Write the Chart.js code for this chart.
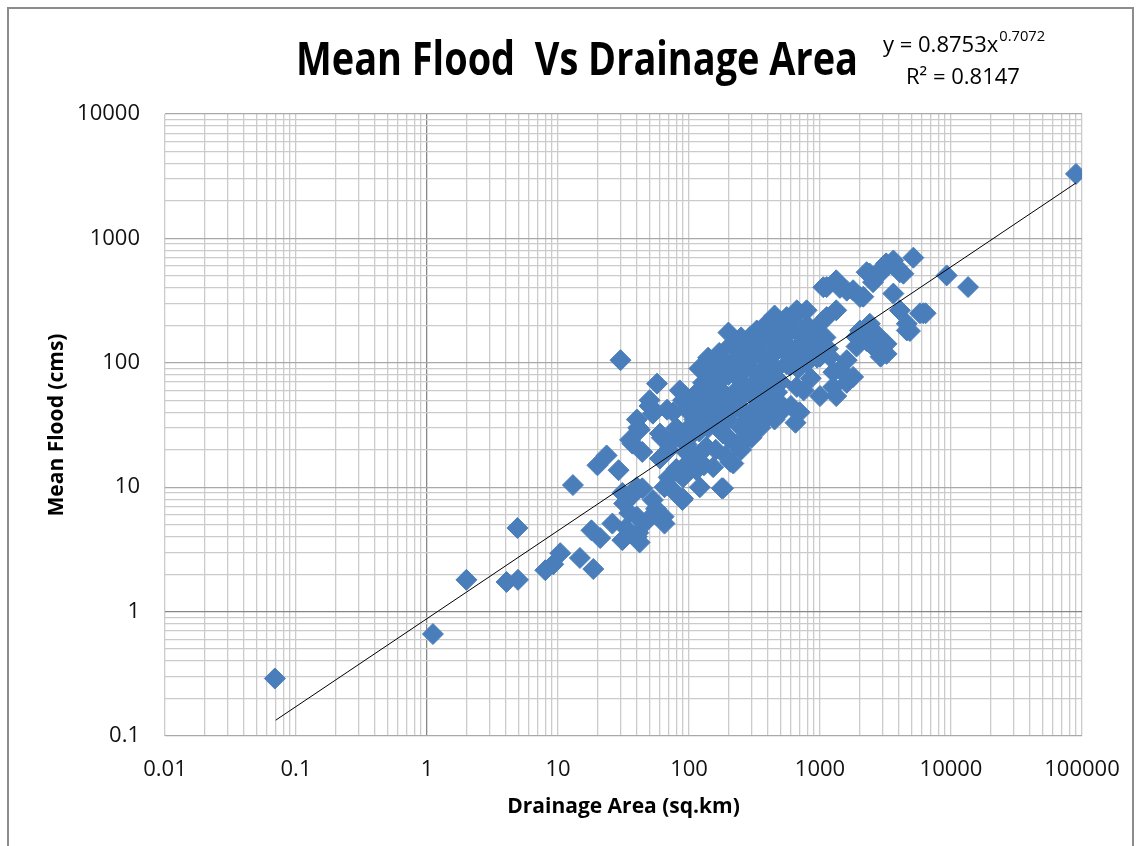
<!DOCTYPE html>
<html lang="en">
  <head>
    <meta charset="UTF-8" />
    <title>Mean Flood Vs Drainage Area</title>
    <script src="https://cdn.jsdelivr.net/npm/chart.js"></script>
    <style>
      html,
      body {
        margin: 0;
        padding: 0;
        overflow: hidden;
        background-color: #fff;
      }

      .frame {
        position: absolute;
        left: 7px;
        top: 7px;
        width: 1127px;
        height: 900px;
        border: 2px solid #8c8c8c;
        box-sizing: border-box;
      }

      #chartContainer {
        position: absolute;
        left: 0;
        top: 0;
        width: 1141px;
        height: 846px;
      }
    </style>
  </head>
  <body>
    <div class="frame"></div>
    <div id="chartContainer">
      <canvas id="myChart"></canvas>
    </div>
    <script>
      // drainage area (sq.km) and mean flood (cms)
      const drainageArea = [
        0.069, 1.11, 2.0, 4.05, 4.95, 4.9, 8.0, 9.2, 10.4, 13, 14.7, 18.6, 18, 21, 20, 23.5,
        29, 30, 57, 50, 31, 40, 53, 65, 89, 35, 48, 65, 26, 31, 41, 33, 40, 42, 32, 37, 44,
        56, 64, 90, 121, 178, 207, 153, 114, 80, 60, 44, 37, 42, 40, 50, 76, 121, 217, 230,
        96, 60, 136, 41, 53, 68, 90, 145, 152, 35.5, 76, 96, 182, 40, 136, 164, 243, 276,
        218, 182, 108, 96, 128, 192, 257,
        557, 665, 440, 329, 276, 348, 495, 700, 890, 1060, 1330, 1000, 790, 590, 440, 348,
        276, 665, 1000, 470, 1265, 292, 329, 243, 194, 128, 495, 626, 790, 1125, 945, 790,
        1190, 1900, 2400, 2540, 2900, 1600, 557, 440, 310,
        1125, 1330, 1600, 2020, 2400, 2540, 3630, 5160, 4330, 3630, 5800, 4600, 4070, 9270,
        13500, 90000, 3040, 4070, 6140, 4600, 1790, 2700, 2020, 1900, 3220, 1790, 2270, 2950,
        2140, 1060, 1420, 2270, 3220, 1600, 1420, 1260, 1330, 6400, 4860, 3200, 3850,
        300, 350, 400, 500, 600, 650, 370, 420, 250, 200, 300, 230, 600, 800, 900, 1100, 750,
        400, 450, 520, 200, 150, 170, 110, 100, 80, 250, 210, 600, 350, 300,
        70, 85, 100, 110, 120, 130, 140, 160, 170, 180, 190, 200, 220, 240, 260, 280, 300,
        320, 340, 360, 380, 420, 460, 500, 550, 620, 680, 720, 850, 950, 1150, 100, 120, 150,
        180, 220, 260, 300, 330, 380, 420, 480, 540, 600, 160, 190, 250, 280, 320, 380, 450,
        520, 700, 750, 850, 70, 90, 100, 130, 75, 110, 62, 85, 140, 170, 250, 200, 380, 450,
        120, 230,
      ];
      const meanFlood = [
        0.29, 0.66, 1.8, 1.73, 1.8, 4.7, 2.15, 2.4, 2.95, 10.4, 2.7, 2.2, 4.5, 3.9, 15, 18,
        13.7, 105, 68, 50, 9, 10, 7.9, 10, 7.9, 6.2, 5.4, 5.1, 5.1, 3.75, 4.3, 4.7, 4, 3.6,
        7.4, 8.6, 9.8, 6.7, 5.8, 8.1, 10, 9.8, 16, 14.5, 13.7, 14, 17, 19.2, 22.4, 29, 35,
        45, 40, 35, 42, 22, 22, 27, 21, 30, 39, 42, 50, 83, 57, 24, 24, 19, 9.8, 5.8, 64, 88,
        73, 35, 15.5, 27, 32, 42, 47, 47, 54,
        233, 264, 206, 170, 142, 119, 135, 170, 142, 219, 264, 112, 100, 95, 84, 84, 95, 64,
        54, 58, 84, 161, 182, 126, 98, 69, 193, 233, 264, 233, 161, 126, 112, 161, 206, 135,
        112, 69, 98, 69, 61,
        406, 460, 380, 338, 520, 445, 665, 700, 520, 360, 250, 206, 264, 504, 406, 3300, 590,
        535, 250, 182, 383, 170, 182, 135, 142, 77, 535, 535, 340, 405, 400, 150, 118, 105,
        88, 64, 54, 250, 180, 630, 590,
        40, 30, 45, 40, 45, 33, 60, 50, 30, 25, 25, 60, 130, 200, 180, 160, 150, 100, 120, 160,
        80, 40, 60, 55, 30, 30, 110, 140, 180, 150, 110,
        20, 25, 25, 35, 28, 40, 30, 35, 45, 38, 55, 35, 50, 45, 40, 60, 55, 70, 45, 80, 65,
        75, 90, 70, 120, 110, 90, 130, 150, 110, 130, 45, 60, 70, 75, 90, 85, 90, 130, 110,
        150, 170, 200, 220, 20, 18, 20, 25, 30, 35, 35, 45, 40, 60, 75, 12, 12, 16, 15, 9.5,
        18, 25, 60, 110, 120, 160, 175, 200, 240, 90, 110,
      ];

      // power trendline end points (y = 0.8753x^0.7072)
      const trendArea = [0.07, 90000];
      const trendFlood = [0.134, 2790];

      const xTickLabels = ["0.01", "0.1", "1", "10", "100", "1000", "10000", "100000"];
      const yTickLabels = ["0.1", "1", "10", "100", "1000", "10000"];
      const minorSteps = [2, 3, 4, 5, 6, 7, 8, 9];

      const textFont = "'Open Sans', sans-serif";

      function logTicks(labels) {
        const ticks = [];
        labels.forEach((lab, i) => {
          const v = Number(lab);
          ticks.push({ value: v, major: false });
          if (i < labels.length - 1) {
            minorSteps.forEach((m) => ticks.push({ value: Number((v * m).toPrecision(6)), major: false }));
          }
        });
        return ticks;
      }

      function findLabel(v, labels) {
        return labels.find((l) => Number(l) === v);
      }

      // draw a string squeezed to a given width (the original uses a narrow face)
      function fitText(ctx, text, x, y, width) {
        const w = ctx.measureText(text).width;
        const sx = Math.min(1, width / w);
        ctx.save();
        ctx.translate(x, y);
        ctx.scale(sx, 1);
        ctx.fillText(text, 0, 0);
        ctx.restore();
        return w * sx;
      }

      const headerText = {
        id: "headerText",
        afterDraw(chart) {
          const ctx = chart.ctx;
          ctx.save();
          ctx.fillStyle = "#000";
          ctx.textBaseline = "alphabetic";
          ctx.textAlign = "left";
          ctx.font = "bold 46px " + textFont;
          fitText(ctx, "Mean Flood  Vs Drainage Area", 296, 75, 562);

          ctx.font = "22px " + textFont;
          const w = fitText(ctx, "y = 0.8753x", 883, 52, 122);
          ctx.font = "15px " + textFont;
          fitText(ctx, "0.7072", 883 + w + 1, 41, 46);
          ctx.font = "22px " + textFont;
          fitText(ctx, "R² = 0.8147", 906, 84, 119);
          ctx.restore();
        },
      };

      const ctx = document.getElementById("myChart").getContext("2d");
      new Chart(ctx, {
        type: "scatter",
        data: {
          datasets: [
            {
              type: "line",
              label: "Power trendline",
              data: trendArea.map((x, i) => ({ x: x, y: trendFlood[i] })),
              borderColor: "#000",
              borderWidth: 1,
              pointRadius: 0,
              fill: false,
              order: 0,
            },
            {
              label: "Mean Flood",
              data: drainageArea.map((x, i) => ({ x: x, y: meanFlood[i] })),
              pointStyle: "rectRot",
              pointRadius: 10.5,
              pointHoverRadius: 10.5,
              backgroundColor: "#4a7ebb",
              borderColor: "#4a7ebb",
              borderWidth: 1,
              order: 1,
            },
          ],
        },
        options: {
          responsive: true,
          maintainAspectRatio: false,
          animation: false,
          layout: {
            padding: { top: 114, right: 59, left: 0, bottom: 0 },
          },
          plugins: {
            legend: { display: false },
            tooltip: { enabled: false },
          },
          scales: {
            x: {
              type: "logarithmic",
              min: 0.01,
              max: 100000,
              afterBuildTicks: (scale) => {
                scale.ticks = logTicks(xTickLabels);
              },
              afterFit: (scale) => {
                scale.height = 110;
              },
              border: { display: false },
              grid: {
                drawTicks: false,
                lineWidth: 1.3,
                color: (c) => (c.tick && c.tick.value === 1 ? "#868686" : "#cbcbcb"),
              },
              ticks: {
                autoSkip: false,
                maxRotation: 0,
                padding: 21,
                color: "#111",
                font: { family: textFont, size: 22 },
                callback: (v) => findLabel(v, xTickLabels) || "",
              },
              title: {
                display: true,
                text: "Drainage Area (sq.km)",
                color: "#000",
                font: { family: textFont, size: 21, weight: "bold" },
                padding: { top: 0, bottom: 26 },
              },
            },
            y: {
              type: "logarithmic",
              min: 0.1,
              max: 10000,
              afterBuildTicks: (scale) => {
                scale.ticks = logTicks(yTickLabels);
              },
              afterFit: (scale) => {
                scale.width = 165;
              },
              border: { display: false },
              grid: {
                drawTicks: false,
                lineWidth: 1.3,
                color: (c) => {
                  if (!c.tick) return "#cbcbcb";
                  if (c.tick.value === 1) return "#868686";
                  return findLabel(c.tick.value, yTickLabels) ? "#a9a9a9" : "#cbcbcb";
                },
              },
              ticks: {
                autoSkip: false,
                padding: 25,
                color: "#111",
                font: { family: textFont, size: 22 },
                callback: (v) => findLabel(v, yTickLabels) || "",
              },
              title: {
                display: true,
                text: "Mean Flood (cms)",
                color: "#000",
                font: { family: textFont, size: 21, weight: "bold" },
                padding: { top: 44, bottom: 0 },
              },
            },
          },
        },
        plugins: [headerText],
      });
    </script>
  </body>
</html>
